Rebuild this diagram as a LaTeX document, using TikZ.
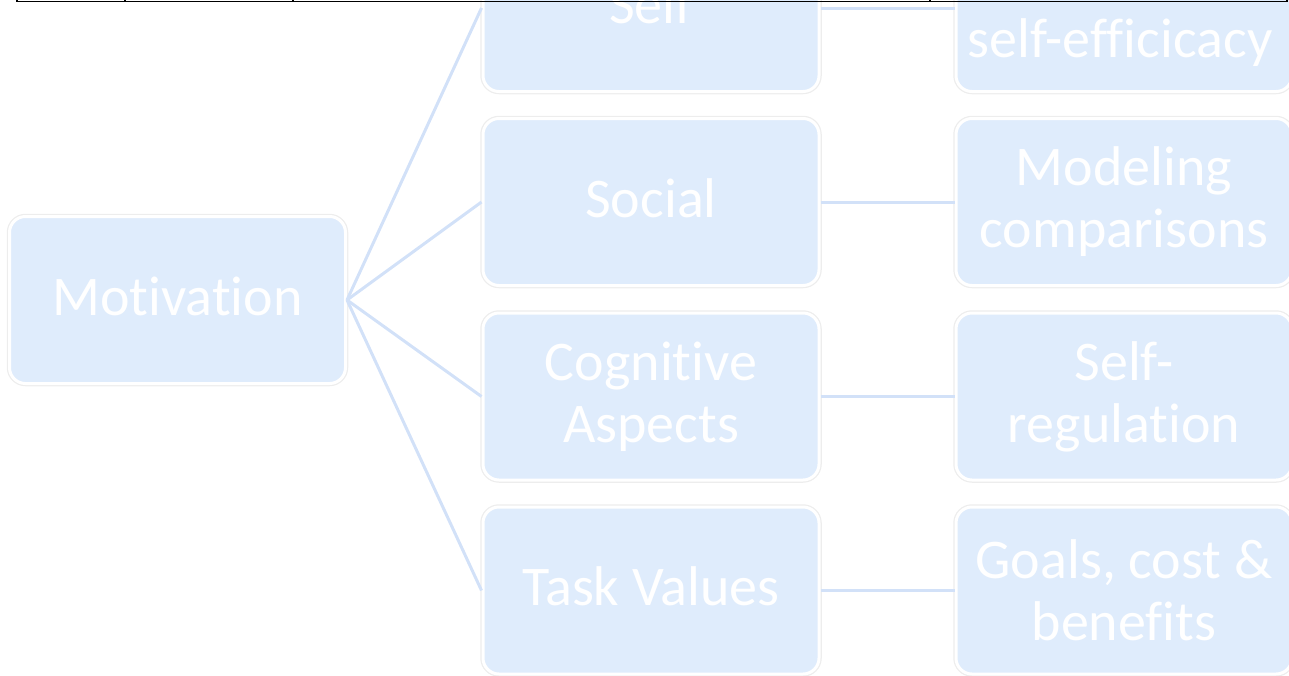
\documentclass[tikz,border=0pt]{standalone}
\usepackage{fontspec}
\setmainfont[Ligatures=NoCommon]{Carlito}
\usetikzlibrary{positioning}
\definecolor{boxfill}{RGB}{223,236,252}
\definecolor{linkblue}{RGB}{210,225,248}
\tikzset{x=1pt, y=-1pt,
box/.style={ % Sets the properties for each box
rectangle,
rounded corners=16pt,
fill=boxfill,
draw=white,
line width=3pt,
preaction={draw=black!7, line width=5.5pt},
minimum width=336pt,
minimum height=167pt,
inner sep=0pt,
text=white,
align=center,
font=\fontsize{56}{62}\selectfont},
single/.style={text depth=8pt}, % one line of text sits a little higher
boxtext/.style={ % Text without a box
text=white,
inner sep=0pt,
font=\fontsize{56}{62}\selectfont},
tabrule/.style={black, line width=1.8pt},
every edge/.style={ % Sets the properties for each link
draw=linkblue,
line width=3pt}}
\begin{document}
\begin{tikzpicture}
\useasboundingbox (0,0) rectangle (1289,675);
\node[box, single] (mot) at (177.5,300) {Motivation};
\node[box, single] (self) at (651,8) {Self};
\node[box, single] (social) at (651,202) {Social};
\node[box] (cog) at (651,396.5) {Cognitive\\Aspects};
\node[box, single] (task) at (651,590.5) {Task Values};
\node[box] (effic) at (1124,8) {};
\node[boxtext, anchor=base] (effictext) at (1120,57) {self-efficicacy};
\node[box] (model) at (1124,202) {Modeling\\comparisons};
\node[box] (sreg) at (1124,396.5) {Self-\\regulation};
\node[box] (goals) at (1124,590.5) {Goals, cost \&\\benefits};
\draw (mot.east) edge (self.west);
\draw (mot.east) edge (social.west);
\draw (mot.east) edge (cog.west);
\draw (mot.east) edge (task.west);
\draw (self.east) edge (effic.west);
\draw (social.east) edge (model.west);
\draw (cog.east) edge (sreg.west);
\draw (task.east) edge (goals.west);
% bottom rule of the table above
\draw[tabrule] (17,1.5) -- (1287,1.5);
\foreach \x in {17,125,293,930,1287}
\draw[tabrule] (\x,0) -- (\x,1.5);
\end{tikzpicture}
\end{document}
